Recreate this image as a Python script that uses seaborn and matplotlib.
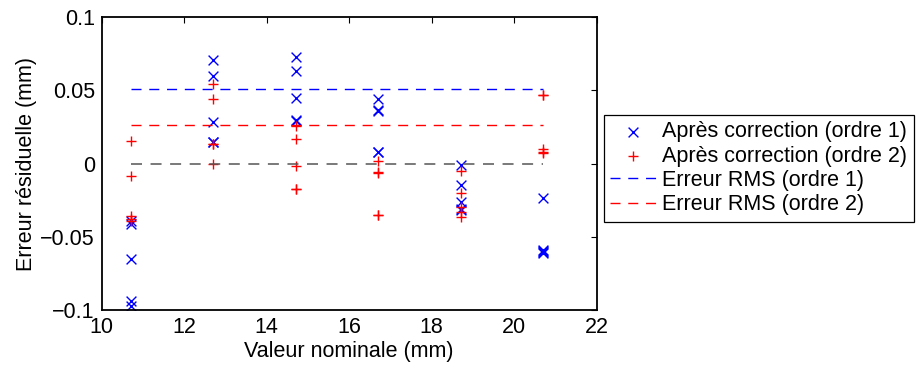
import matplotlib
matplotlib.use("Agg")
import matplotlib.pyplot as plt
import seaborn as sns
import pandas as pd

# valeurs nominales (mm)
nominal = [10.7, 12.7, 14.7, 16.7, 18.7, 20.7]

# erreur residuelle apres correction, ordre 1 (mm)
err_o1 = [
    [-0.039, -0.041, -0.065, -0.094, -0.097],
    [0.0705, 0.060, 0.028, 0.0147, 0.0145],
    [0.073, 0.0634, 0.045, 0.030, 0.029],
    [0.0441, 0.0364, 0.0358, 0.0077, 0.0077],
    [-0.0007, -0.0148, -0.026, -0.032, -0.031],
    [-0.0235, -0.059, -0.0607, -0.061, -0.060],
]
# erreur residuelle apres correction, ordre 2 (mm)
err_o2 = [
    [0.0157, -0.0085, -0.036, -0.038, -0.039],
    [0.0546, 0.0441, 0.0132, 0.0135, -0.0003],
    [0.0259, 0.0164, -0.0018, -0.0175, -0.0175],
    [0.0014, -0.0061, -0.0068, -0.035, -0.035],
    [-0.005, -0.0198, -0.030, -0.033, -0.0366],
    [0.0468, 0.0098, 0.0075, 0.0078, 0.0470],
]

rms_o1 = 0.051
rms_o2 = 0.026
ref_zero = 0.0

yticks = [-0.1, -0.05, 0, 0.05, 0.1]
ytick_labels = ["\u22120.1", "\u22120.05", "0", "0.05", "0.1"]
xticks = [10, 12, 14, 16, 18, 20, 22]

rows = []
for xv, ys in zip(nominal, err_o1):
    for yv in ys:
        rows.append((xv, yv, "Après correction (ordre 1)"))
for xv, ys in zip(nominal, err_o2):
    for yv in ys:
        rows.append((xv, yv, "Après correction (ordre 2)"))
df = pd.DataFrame(rows, columns=["nominal", "erreur", "serie"])

sns.set_style("white")
plt.rcParams["font.family"] = ["Liberation Sans", "DejaVu Sans"]
plt.rcParams["font.size"] = 15.5
for k in ["text.color", "axes.labelcolor", "xtick.color", "ytick.color"]:
    plt.rcParams[k] = "black"

fig = plt.figure(figsize=(9.18, 3.65), dpi=100)
ax = fig.add_axes([0.1108, 0.1507, 0.5392, 0.8027])

d1 = df[df.serie == "Après correction (ordre 1)"]
d2 = df[df.serie == "Après correction (ordre 2)"]
sns.scatterplot(data=d1, x="nominal", y="erreur", marker="x", color="blue",
                s=50, linewidth=1.0, ax=ax, label="Après correction (ordre 1)")
sns.scatterplot(data=d2, x="nominal", y="erreur", marker="+", color="red",
                s=55, linewidth=1.0, ax=ax, label="Après correction (ordre 2)")

dash = (0, (7.2, 5.6))
xmin, xmax = min(nominal), max(nominal)
ax.hlines(rms_o1, xmin, xmax, colors="blue", linestyles=dash, linewidth=1.0,
          label="Erreur RMS (ordre 1)")
ax.hlines(rms_o2, xmin, xmax, colors="red", linestyles=dash, linewidth=1.0,
          label="Erreur RMS (ordre 2)")
ax.hlines(ref_zero, xmin, xmax, colors="#555555", linestyles=dash, linewidth=1.1)

ax.set_xlim(10, 22)
ax.set_ylim(-0.1, 0.1)
ax.set_xticks(xticks)
ax.set_yticks(yticks)
ax.set_yticklabels(ytick_labels)
ax.set_xlabel("Valeur nominale (mm)", fontsize=15.5, labelpad=2)
ax.set_ylabel("Erreur résiduelle (mm)", fontsize=15.5, labelpad=2)
ax.tick_params(direction="in", length=4, width=0.8, top=True, right=True,
               labelsize=15.5, color="black")
ax.tick_params(axis="x", pad=5)
ax.tick_params(axis="y", pad=5)
for sp in ax.spines.values():
    sp.set_color("black")
    sp.set_linewidth(1.3)

leg = ax.legend(loc="upper left", bbox_to_anchor=(604 / 918, 1 - 115 / 365),
                bbox_transform=fig.transFigure, fancybox=False, framealpha=1,
                edgecolor="black", fontsize=15.5, handlelength=2.1,
                borderaxespad=0, borderpad=0.3, labelspacing=0.15, handletextpad=0.3)
leg.get_frame().set_linewidth(0.9)

fig.savefig("out.png", dpi=100)
